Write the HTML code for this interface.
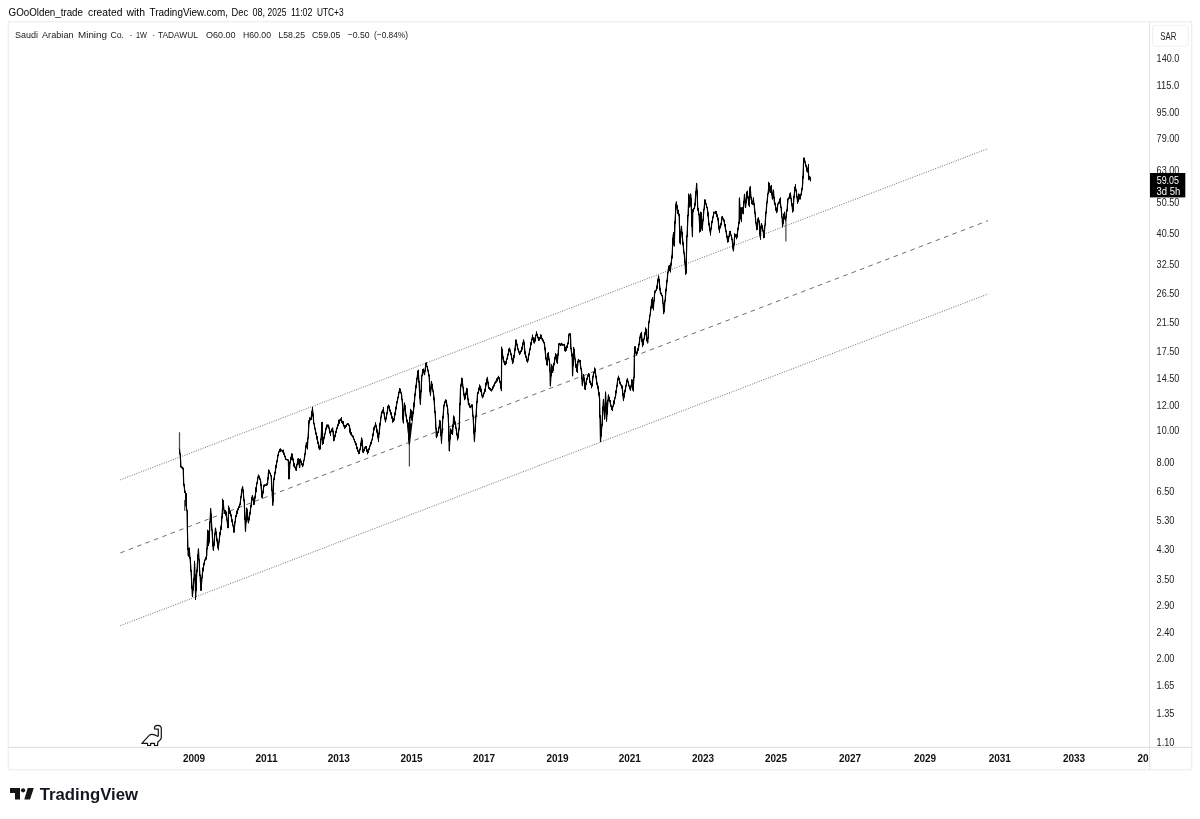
<!DOCTYPE html>
<html lang="en"><head><meta charset="utf-8"><title>Saudi Arabian Mining Co. 1W TADAWUL</title>
<style>
html,body{margin:0;padding:0;background:#fff;}
body{width:1200px;height:819px;overflow:hidden;font-family:"Liberation Sans",sans-serif;}
svg{display:block;}
text{font-family:"Liberation Sans",sans-serif;fill:#131722;}
.hdr{font-size:10.2px;fill:#000;}
.leg{font-size:9.3px;fill:#1a1a1a;}
.pr text{font-size:10.4px;fill:#222;}
.tm text{font-size:10px;font-weight:700;fill:#111;}
.lbl text{font-size:10.3px;fill:#fff;}
</style></head><body>
<svg width="1200" height="819" viewBox="0 0 1200 819">
<rect x="0" y="0" width="1200" height="819" fill="#fff"/>
<text class="hdr" y="15.6"><tspan x="8.6" textLength="74.4" lengthAdjust="spacingAndGlyphs">GOoOlden_trade</tspan> <tspan x="88" textLength="34.4" lengthAdjust="spacingAndGlyphs">created</tspan> <tspan x="126.4" textLength="18.6" lengthAdjust="spacingAndGlyphs">with</tspan> <tspan x="149.6" textLength="78.4" lengthAdjust="spacingAndGlyphs">TradingView.com,</tspan> <tspan x="231.6" textLength="16.4" lengthAdjust="spacingAndGlyphs">Dec</tspan> <tspan x="252.4" textLength="12.6" lengthAdjust="spacingAndGlyphs">08,</tspan> <tspan x="267.6" textLength="18.8" lengthAdjust="spacingAndGlyphs">2025</tspan> <tspan x="291" textLength="21.4" lengthAdjust="spacingAndGlyphs">11:02</tspan> <tspan x="317" textLength="26.6" lengthAdjust="spacingAndGlyphs">UTC+3</tspan></text>
<!-- chart frame -->
<rect x="8.25" y="21.75" width="1183.5" height="748" fill="#fff" stroke="#eeeeee" stroke-width="1.2"/>
<line x1="1149.6" y1="22" x2="1149.6" y2="769.5" stroke="#e4e4e4" stroke-width="1.1"/>
<line x1="8.5" y1="747.4" x2="1191.5" y2="747.4" stroke="#e2e2e2" stroke-width="1.1"/>
<text class="leg" y="37.9"><tspan x="15" textLength="23" lengthAdjust="spacingAndGlyphs">Saudi</tspan> <tspan x="42" textLength="31.6" lengthAdjust="spacingAndGlyphs">Arabian</tspan> <tspan x="78" textLength="29" lengthAdjust="spacingAndGlyphs">Mining</tspan> <tspan x="110.4" textLength="13.6" lengthAdjust="spacingAndGlyphs">Co.</tspan> <tspan x="129.6">·</tspan> <tspan x="136" textLength="11" lengthAdjust="spacingAndGlyphs">1W</tspan> <tspan x="152.2">·</tspan> <tspan x="158" textLength="39.6" lengthAdjust="spacingAndGlyphs">TADAWUL</tspan> <tspan x="206" textLength="29.6" lengthAdjust="spacingAndGlyphs">O60.00</tspan> <tspan x="243" textLength="28" lengthAdjust="spacingAndGlyphs">H60.00</tspan> <tspan x="278.4" textLength="26.6" lengthAdjust="spacingAndGlyphs">L58.25</tspan> <tspan x="312" textLength="28.4" lengthAdjust="spacingAndGlyphs">C59.05</tspan> <tspan x="347.6" textLength="22" lengthAdjust="spacingAndGlyphs">−0.50</tspan> <tspan x="374" textLength="34" lengthAdjust="spacingAndGlyphs">(−0.84%)</tspan></text>
<!-- channel -->
<g fill="none" stroke="#6e6e6e" stroke-width="1">
<line x1="120.3" y1="479.8" x2="988" y2="148.6" stroke-dasharray="1 1.45"/>
<line x1="120.3" y1="625.7" x2="988" y2="294" stroke-dasharray="1 1.45"/>
<line x1="120.3" y1="552.9" x2="988" y2="220.7" stroke-dasharray="4.6 4.4"/>
</g>
<!-- price bars -->
<clipPath id="pane"><rect x="9" y="23" width="1141" height="724"/></clipPath>
<g clip-path="url(#pane)" fill="none" stroke="#000">
<path d="M179.4,448.0 L180.4,458.0 L181.0,466.8 L183.2,469.0 L183.7,483.2 L184.8,491.0 L186.0,494.0 L185.6,503.0 L187.0,510.7 L187.4,530.5 L188.2,556.0 L189.1,548.0 L190.7,565.7 L191.8,583.2 L192.4,596.4 L194.0,578.8 L194.6,562.4 L195.7,597.5 L196.5,578.0 L198.4,549.2 L199.5,568.0 L201.0,589.8 L202.3,574.0 L204.5,561.3 L206.7,555.8 L207.8,530.5 L208.9,543.7 L210.7,508.5 L211.6,524.0 L213.3,550.3 L215.5,528.3 L218.2,549.2 L219.3,539.0 L221.5,523.9 L223.0,500.8 L224.3,512.9 L225.8,511.8 L228.0,527.2 L228.7,507.4 L230.9,515.0 L234.0,530.5 L235.7,517.0 L237.9,509.6 L240.1,504.0 L241.5,493.1 L242.6,486.5 L244.3,503.1 L245.5,531.2 L246.7,508.0 L248.4,522.6 L250.4,510.4 L252.4,495.7 L254.1,504.3 L256.5,486.0 L258.5,475.0 L260.7,481.1 L262.1,498.2 L263.8,486.0 L267.5,484.0 L268.7,470.1 L271.2,476.2 L272.9,505.5 L273.6,481.1 L276.1,466.4 L278.5,453.0 L280.2,449.3 L283.4,451.8 L285.8,459.1 L288.3,460.3 L289.0,478.6 L290.0,462.8 L291.9,454.2 L293.9,464.0 L296.1,470.1 L298.0,459.1 L299.8,467.6 L300.0,459.0 L302.7,466.4 L304.6,457.2 L306.4,442.6 L307.3,448.1 L309.2,420.6 L311.0,418.8 L312.5,408.7 L313.7,422.4 L315.6,431.6 L317.4,439.8 L319.8,449.9 L321.1,438.9 L322.0,422.4 L322.9,442.6 L324.7,435.2 L326.6,426.1 L328.4,425.2 L330.2,433.4 L332.6,427.9 L333.9,440.7 L335.7,432.5 L338.5,423.3 L340.7,418.8 L343.0,423.3 L344.9,427.9 L347.6,423.3 L349.5,426.1 L350.4,433.4 L353.1,437.1 L355.9,444.4 L359.0,453.6 L360.4,448.1 L361.7,438.0 L363.2,452.6 L365.6,446.2 L367.8,452.6 L370.5,444.4 L372.3,438.9 L373.8,429.7 L375.6,424.2 L376.9,429.7 L378.4,439.8 L379.7,427.9 L381.5,413.3 L383.3,409.6 L385.5,421.5 L387.0,413.3 L388.5,405.0 L390.7,413.3 L393.4,421.5 L395.2,413.3 L396.7,404.1 L398.9,393.1 L399.8,388.5 L401.6,394.9 L402.6,405.9 L403.1,422.4 L404.4,403.2 L406.2,416.9 L408.1,426.1 L409.3,444.9 L409.9,418.8 L410.8,409.6 L412.1,420.6 L413.6,409.6 L415.4,391.3 L418.1,370.2 L419.0,382.1 L420.3,404.1 L421.8,376.6 L423.1,369.3 L424.5,374.8 L426.0,362.9 L427.8,369.3 L429.1,376.6 L430.4,394.9 L431.5,382.1 L433.7,394.9 L435.5,418.8 L436.4,437.1 L438.3,431.6 L440.0,421.7 L441.5,441.9 L442.7,419.9 L444.0,405.2 L445.9,399.7 L447.7,408.9 L448.8,427.2 L449.2,451.0 L450.6,429.0 L452.5,434.5 L453.7,416.2 L455.6,425.4 L457.8,439.1 L459.2,427.2 L460.5,388.8 L462.0,378.7 L463.4,390.6 L464.7,399.7 L466.9,388.8 L468.4,403.4 L470.2,407.1 L472.1,405.2 L473.3,419.9 L474.4,441.0 L475.7,419.9 L477.5,394.2 L480.3,386.0 L482.5,397.9 L484.9,390.6 L487.3,377.8 L488.5,386.9 L491.6,390.6 L494.9,383.3 L498.6,376.8 L500.4,383.3 L501.4,390.6 L501.7,347.5 L503.2,359.5 L505.0,364.9 L506.8,359.5 L509.6,348.5 L511.4,355.8 L512.7,363.1 L514.2,355.8 L516.0,340.2 L517.8,348.5 L519.7,354.0 L521.5,350.3 L523.7,340.2 L525.2,354.0 L527.5,362.2 L529.7,350.3 L532.5,336.6 L534.3,343.0 L536.5,332.9 L538.9,340.2 L540.7,336.6 L542.6,339.3 L544.4,343.9 L545.9,357.6 L547.1,364.9 L548.1,353.0 L549.9,364.9 L550.3,386.0 L551.7,364.9 L552.6,372.3 L554.5,361.3 L555.8,354.0 L557.2,363.1 L559.0,343.9 L561.8,344.8 L564.5,344.8 L565.1,351.2 L568.2,343.0 L569.1,333.8 L570.4,333.8 L571.0,348.5 L572.2,357.6 L572.6,375.9 L573.7,347.5 L575.5,363.1 L577.0,371.4 L578.3,359.5 L580.1,361.3 L580.0,362.3 L581.8,373.3 L582.2,385.2 L583.7,375.1 L585.1,389.7 L586.4,380.6 L588.8,373.3 L590.1,382.4 L591.9,386.1 L593.2,375.1 L595.0,369.6 L596.5,380.6 L598.3,389.7 L599.6,398.9 L600.5,441.0 L602.0,424.5 L603.4,399.8 L604.7,419.0 L605.6,392.5 L606.6,420.0 L608.4,395.2 L610.2,402.6 L612.1,409.9 L613.9,402.6 L615.7,395.2 L617.5,381.5 L618.5,376.9 L620.3,384.2 L622.1,386.1 L623.4,399.8 L624.9,391.6 L627.3,378.8 L629.1,386.1 L630.4,389.7 L632.2,380.6 L633.1,389.7 L634.0,376.9 L634.4,354.9 L634.9,346.7 L636.4,354.9 L638.6,347.6 L640.4,334.8 L641.4,333.0 L642.6,345.8 L644.1,338.5 L645.9,329.3 L646.8,340.3 L647.8,343.0 L648.7,323.8 L650.7,310.5 L652.1,298.8 L653.3,308.5 L654.7,292.9 L656.6,289.0 L658.6,276.3 L660.5,292.9 L662.5,296.8 L663.8,313.4 L665.4,296.8 L667.4,277.3 L668.7,266.5 L670.3,271.4 L672.2,253.8 L673.2,234.3 L674.2,246.0 L675.2,218.6 L676.2,202.0 L677.5,210.8 L679.1,214.7 L680.1,244.0 L681.4,226.4 L683.0,244.0 L684.6,257.7 L685.9,274.3 L686.9,238.2 L687.9,218.6 L688.9,194.2 L689.8,206.9 L690.8,194.2 L692.4,236.2 L692.8,210.8 L694.7,206.9 L696.7,183.5 L697.7,206.9 L699.0,214.7 L700.0,231.3 L701.0,212.8 L702.1,230.4 L703.5,214.7 L704.9,200.1 L707.4,208.9 L708.8,222.5 L710.4,233.3 L711.9,222.5 L713.9,212.8 L716.2,211.8 L718.2,220.6 L719.1,230.4 L721.1,224.5 L722.1,216.7 L724.0,220.6 L726.0,231.3 L727.9,242.1 L729.9,231.3 L731.9,238.2 L733.4,250.9 L734.8,234.3 L736.7,238.2 L738.7,224.5 L739.1,222.1 L739.4,197.9 L740.1,210.4 L741.2,220.6 L742.0,207.4 L743.1,213.3 L744.5,194.2 L745.6,207.4 L747.0,192.0 L748.2,198.6 L749.2,206.0 L750.1,186.6 L751.1,198.6 L752.6,204.5 L753.3,198.6 L754.8,210.4 L755.8,222.1 L757.0,229.4 L758.2,217.7 L759.2,222.1 L760.2,237.5 L761.4,223.6 L762.6,228.0 L764.0,236.7 L765.0,225.0 L766.1,211.8 L767.2,200.1 L768.3,191.3 L769.0,183.7 L770.2,192.8 L771.2,186.9 L772.4,198.6 L773.4,189.8 L774.3,201.6 L775.8,207.4 L776.8,212.6 L777.8,204.5 L779.0,203.0 L780.0,199.4 L781.2,208.9 L782.2,219.2 L782.6,226.5 L784.1,213.3 L785.1,219.2 L785.9,220.6 L786.2,213.3 L787.0,210.4 L788.1,198.6 L789.2,197.9 L790.3,192.8 L791.4,201.6 L792.9,211.8 L793.9,198.6 L795.1,186.2 L796.3,191.3 L797.6,202.3 L798.8,194.2 L800.2,197.9 L801.7,191.3 L802.7,184.0 L803.5,163.5 L804.2,158.3 L805.4,163.5 L806.4,167.9 L807.3,172.2 L808.3,166.4 L808.7,179.6 L809.8,176.6 L810.5,180.3" stroke-width="1.2" stroke-linejoin="bevel"/>
<path d="M179.5,447.6V454.1M180.5,453.4V467.3M181.5,466.2V468.0M182.5,466.8V469.2M183.5,467.7V485.7M184.5,484.1V493.1M185.5,491.3V506.1M186.5,493.2V511.1M187.5,510.4V550.0M188.5,548.3V556.8M189.5,547.5V558.7M190.5,557.2V571.5M191.5,570.1V588.8M192.5,586.7V597.1M193.5,578.1V590.6M194.5,560.8V579.6M195.5,574.5V600.0M196.5,569.6V591.1M197.5,554.2V571.9M198.5,548.3V559.9M199.5,559.1V576.1M200.5,574.9V590.7M201.5,577.1V590.9M202.5,567.6V578.1M203.5,563.1V571.3M204.5,559.7V564.7M205.5,557.2V560.6M206.5,548.3V559.7M207.5,529.7V549.1M208.5,530.6V546.0M209.5,521.6V542.4M210.5,508.2V522.4M211.5,513.5V530.4M212.5,529.7V546.6M213.5,543.0V550.8M214.5,533.1V545.7M215.5,527.6V533.6M216.5,531.7V541.2M217.5,538.8V548.0M218.5,541.7V550.4M219.5,532.1V542.3M220.5,526.4V535.1M221.5,515.9V529.8M222.5,498.7V518.4M223.5,500.1V510.2M224.5,509.7V513.8M225.5,510.0V515.6M226.5,511.5V520.5M227.5,519.8V528.1M228.5,505.5V528.2M229.5,507.6V514.0M230.5,511.2V516.3M231.5,514.5V522.1M232.5,519.4V525.8M233.5,525.3V532.7M234.5,521.6V532.6M235.5,515.3V522.6M236.5,510.6V517.0M237.5,508.4V514.1M238.5,506.4V510.1M239.5,503.7V507.8M240.5,496.4V505.2M241.5,489.0V497.6M242.5,486.2V490.9M243.5,489.7V500.8M244.5,499.6V520.0M245.5,518.4V531.9M246.5,507.5V522.6M247.5,509.3V520.5M248.5,518.1V523.5M249.5,512.3V520.3M250.5,504.9V514.4M251.5,497.2V507.2M252.5,495.1V499.4M253.5,498.2V505.1M254.5,496.4V504.6M255.5,487.3V498.3M256.5,482.5V492.1M257.5,477.1V483.6M258.5,474.5V477.8M259.5,476.0V479.7M260.5,478.6V486.2M261.5,484.0V497.2M262.5,491.0V498.5M263.5,484.8V493.4M264.5,484.3V486.7M265.5,484.6V486.0M266.5,483.2V485.8M267.5,477.4V485.3M268.5,469.5V479.4M269.5,470.5V473.6M270.5,472.9V476.2M271.5,475.4V490.9M272.5,490.2V505.7M273.5,478.6V502.0M274.5,472.1V480.0M275.5,465.0V473.7M276.5,460.6V467.8M277.5,454.8V462.0M278.5,451.4V456.0M279.5,448.9V452.2M280.5,448.3V452.1M281.5,449.6V451.3M282.5,450.1V452.6M283.5,449.5V454.8M284.5,453.2V457.1M285.5,455.9V459.9M286.5,458.8V460.2M287.5,459.5V460.6M288.5,459.5V479.3M289.5,461.7V479.2M290.5,456.9V463.4M291.5,453.2V460.2M292.5,453.7V460.2M293.5,458.6V466.6M294.5,463.3V467.9M295.5,466.9V470.3M296.5,464.1V470.9M297.5,458.6V465.1M298.5,458.1V464.5M299.5,459.0V468.1M300.5,458.6V462.1M301.5,460.7V464.9M302.5,463.6V467.2M303.5,460.0V465.5M304.5,453.5V460.3M305.5,445.5V454.7M306.5,442.1V446.7M307.5,437.8V449.5M308.5,420.5V438.6M309.5,417.2V423.3M310.5,417.6V420.5M311.5,411.1V420.0M312.5,406.8V416.5M313.5,413.4V423.8M314.5,423.1V429.2M315.5,428.3V434.4M316.5,432.6V439.4M317.5,436.0V443.9M318.5,441.8V448.5M319.5,446.0V450.1M320.5,438.4V449.0M321.5,422.0V439.7M322.5,421.8V444.9M323.5,437.1V444.0M324.5,433.6V438.7M325.5,428.1V434.0M326.5,424.5V429.3M327.5,424.4V427.4M328.5,424.7V428.4M329.5,427.6V433.4M330.5,431.3V436.0M331.5,429.0V431.9M332.5,427.6V432.2M333.5,430.9V441.3M334.5,435.1V440.6M335.5,431.1V437.0M336.5,427.5V432.9M337.5,424.4V428.8M338.5,419.8V426.0M339.5,419.2V423.9M340.5,418.6V421.1M341.5,417.0V422.9M342.5,421.1V424.1M343.5,421.1V426.6M344.5,425.0V428.9M345.5,425.0V428.2M346.5,424.0V426.9M347.5,423.1V425.1M348.5,423.5V425.5M349.5,424.8V432.5M350.5,428.7V434.7M351.5,432.1V435.8M352.5,434.8V437.3M353.5,435.8V439.6M354.5,438.9V442.4M355.5,441.3V445.1M356.5,443.2V449.2M357.5,446.9V451.7M358.5,450.3V454.2M359.5,448.7V454.0M360.5,442.6V449.9M361.5,437.4V446.0M362.5,439.7V452.3M363.5,449.4V452.9M364.5,447.3V450.9M365.5,446.0V448.3M366.5,446.2V451.9M367.5,449.5V454.4M368.5,448.3V453.0M369.5,445.5V450.1M370.5,442.0V446.2M371.5,439.7V444.4M372.5,433.8V440.3M373.5,427.2V435.7M374.5,425.8V430.1M375.5,422.2V427.3M376.5,425.2V432.6M377.5,429.8V437.7M378.5,432.7V442.1M379.5,423.1V434.5M380.5,416.8V425.5M381.5,411.4V417.5M382.5,409.5V413.4M383.5,407.0V413.5M384.5,412.6V419.3M385.5,418.2V422.4M386.5,412.2V419.1M387.5,406.2V413.7M388.5,404.6V408.0M389.5,406.0V411.3M390.5,409.7V414.6M391.5,412.2V418.6M392.5,416.4V422.8M393.5,418.4V421.9M394.5,412.4V420.4M395.5,406.8V415.2M396.5,401.4V409.2M397.5,397.1V403.0M398.5,392.0V397.9M399.5,388.0V393.0M400.5,388.9V393.3M401.5,392.5V399.8M402.5,398.9V419.8M403.5,408.7V423.6M404.5,402.4V409.6M405.5,405.2V415.5M406.5,414.9V421.8M407.5,419.8V426.8M408.5,425.5V440.6M409.5,416.7V445.8M410.5,408.9V418.1M411.5,410.3V420.4M412.5,411.3V420.9M413.5,402.6V413.9M414.5,393.6V407.1M415.5,385.3V395.6M416.5,378.0V388.0M417.5,370.7V379.5M418.5,369.8V382.5M419.5,380.8V398.7M420.5,390.3V404.9M421.5,375.1V392.3M422.5,369.0V376.1M423.5,368.5V373.1M424.5,370.2V375.2M425.5,362.8V371.6M426.5,362.3V366.6M427.5,366.2V371.1M428.5,370.1V376.4M429.5,374.6V391.7M430.5,387.1V396.1M431.5,381.0V389.3M432.5,383.9V391.4M433.5,390.7V400.3M434.5,397.5V412.8M435.5,411.4V428.6M436.5,427.9V438.2M437.5,431.4V436.4M438.5,426.9V432.9M439.5,419.9V428.5M440.5,420.5V435.9M441.5,432.3V443.9M442.5,416.1V433.0M443.5,405.4V418.5M444.5,401.2V406.3M445.5,399.5V402.5M446.5,400.0V406.4M447.5,405.1V414.2M448.5,413.6V441.3M449.5,437.7V451.4M450.5,428.4V439.4M451.5,429.9V434.0M452.5,424.5V435.0M453.5,415.4V427.2M454.5,416.9V424.7M455.5,421.6V428.7M456.5,427.7V435.2M457.5,433.7V440.5M458.5,428.4V438.0M459.5,402.9V429.5M460.5,384.5V405.0M461.5,377.6V386.1M462.5,378.2V387.3M463.5,386.9V395.4M464.5,393.6V400.2M465.5,392.9V398.9M466.5,387.9V394.8M467.5,388.4V399.8M468.5,398.4V405.2M469.5,403.1V407.6M470.5,405.5V408.2M471.5,404.3V407.3M472.5,404.3V416.5M473.5,415.4V433.6M474.5,431.4V442.1M475.5,415.6V431.7M476.5,401.1V416.7M477.5,392.2V402.8M478.5,387.5V393.9M479.5,384.4V390.2M480.5,385.8V392.1M481.5,388.9V395.7M482.5,395.1V398.3M483.5,392.7V396.7M484.5,389.0V393.7M485.5,382.6V391.8M486.5,378.7V385.3M487.5,376.9V383.5M488.5,381.9V388.8M489.5,387.1V389.8M490.5,388.0V390.8M491.5,389.2V391.6M492.5,386.5V390.2M493.5,384.8V388.4M494.5,382.3V386.3M495.5,380.9V383.7M496.5,378.3V382.6M497.5,377.5V381.4M498.5,375.8V378.8M499.5,377.3V382.5M500.5,381.3V388.8M501.5,346.6V391.2M502.5,349.1V358.5M503.5,356.5V362.2M504.5,360.8V365.1M505.5,361.5V365.3M506.5,358.6V364.1M507.5,353.8V359.4M508.5,348.6V355.4M509.5,347.6V351.1M510.5,349.9V355.0M511.5,353.5V359.7M512.5,358.4V364.1M513.5,355.0V362.5M514.5,348.5V357.7M515.5,339.5V350.9M516.5,339.6V345.5M517.5,344.2V349.8M518.5,348.6V352.5M519.5,351.4V355.1M520.5,350.5V353.9M521.5,347.0V352.0M522.5,342.5V349.9M523.5,339.4V344.3M524.5,342.3V354.3M525.5,351.4V357.6M526.5,355.9V361.4M527.5,359.6V362.8M528.5,353.8V360.5M529.5,348.7V355.1M530.5,342.2V350.0M531.5,338.7V344.9M532.5,334.5V339.7M533.5,337.3V342.6M534.5,337.7V343.5M535.5,335.0V341.5M536.5,331.3V335.7M537.5,334.0V338.2M538.5,337.0V340.9M539.5,337.2V340.5M540.5,334.2V338.9M541.5,334.8V339.5M542.5,338.3V341.5M543.5,340.0V343.2M544.5,342.0V349.8M545.5,347.4V359.4M546.5,357.5V365.2M547.5,352.9V365.8M548.5,352.1V360.1M549.5,358.7V371.6M550.5,371.2V386.4M551.5,364.2V376.4M552.5,366.2V373.0M553.5,363.2V370.7M554.5,357.1V364.9M555.5,353.1V359.3M556.5,354.5V362.4M557.5,353.8V363.9M558.5,343.4V355.5M559.5,342.9V344.9M560.5,343.5V346.1M561.5,342.8V345.3M562.5,343.6V345.8M563.5,344.3V345.6M564.5,343.8V351.0M565.5,346.9V351.7M566.5,345.8V350.8M567.5,342.6V348.1M568.5,334.3V344.2M569.5,333.4V335.6M570.5,333.5V348.9M571.5,347.7V356.4M572.5,353.7V376.4M573.5,346.9V366.1M574.5,349.1V359.4M575.5,358.5V367.7M576.5,364.0V371.9M577.5,361.1V373.0M578.5,359.1V362.4M579.5,360.0V362.0M580.5,360.0V369.2M581.5,368.1V379.2M582.5,378.5V386.1M583.5,374.0V379.8M584.5,377.7V389.4M585.5,382.4V390.0M586.5,378.1V384.7M587.5,374.8V379.8M588.5,373.0V376.3M589.5,374.0V382.9M590.5,381.2V384.8M591.5,383.3V388.4M592.5,376.2V386.4M593.5,371.8V377.3M594.5,367.4V373.2M595.5,368.5V377.7M596.5,375.9V384.7M597.5,382.8V388.8M598.5,385.8V395.5M599.5,392.3V417.8M600.5,415.2V442.1M601.5,424.1V436.5M602.5,406.5V425.7M603.5,398.9V408.5M604.5,407.3V419.7M605.5,391.5V411.3M606.5,402.3V421.9M607.5,399.7V414.4M608.5,394.3V401.1M609.5,397.1V401.8M610.5,400.0V406.5M611.5,405.5V410.1M612.5,405.9V411.1M613.5,400.4V406.4M614.5,397.5V404.3M615.5,390.5V398.2M616.5,385.2V393.2M617.5,378.2V386.6M618.5,375.6V379.7M619.5,378.0V383.7M620.5,382.0V385.5M621.5,384.6V388.5M622.5,385.7V396.0M623.5,393.1V401.1M624.5,390.0V397.6M625.5,385.2V391.9M626.5,379.8V386.3M627.5,378.2V382.0M628.5,381.5V385.9M629.5,385.5V389.1M630.5,385.6V390.9M631.5,379.2V387.2M632.5,379.5V390.5M633.5,376.9V391.6M634.5,346.4V377.6M635.5,346.3V353.6M636.5,352.1V355.4M637.5,348.1V353.6M638.5,343.9V350.8M639.5,336.9V345.2M640.5,333.3V338.2M641.5,331.8V341.9M642.5,339.1V347.1M643.5,338.6V345.1M644.5,332.4V339.2M645.5,327.4V334.5M646.5,328.7V340.9M647.5,337.3V343.4M648.5,321.6V338.7M649.5,315.0V322.6M650.5,306.5V315.5M651.5,299.2V308.6M652.5,297.1V308.4M653.5,300.2V310.4M654.5,290.6V301.3M655.5,290.0V292.9M656.5,285.8V290.9M657.5,279.2V288.8M658.5,275.4V280.9M659.5,279.0V290.3M660.5,287.8V294.1M661.5,292.5V296.0M662.5,294.8V303.4M663.5,302.9V314.2M664.5,300.5V311.9M665.5,288.8V301.4M666.5,280.2V291.1M667.5,271.9V281.8M668.5,265.7V272.4M669.5,264.9V271.1M670.5,263.1V272.5M671.5,255.6V265.4M672.5,237.7V258.5M673.5,231.9V244.3M674.5,221.2V246.6M675.5,204.1V223.7M676.5,201.3V207.6M677.5,205.2V214.1M678.5,209.7V215.7M679.5,214.1V242.6M680.5,230.9V244.5M681.5,225.8V234.3M682.5,232.1V244.8M683.5,242.3V253.3M684.5,252.5V263.3M685.5,262.5V274.8M686.5,235.5V273.4M687.5,214.9V237.0M688.5,193.5V216.2M689.5,195.6V207.6M690.5,193.4V205.2M691.5,197.9V226.8M692.5,209.2V237.2M693.5,208.1V212.1M694.5,203.0V209.2M695.5,191.2V205.6M696.5,182.9V192.3M697.5,190.3V210.7M698.5,208.0V215.2M699.5,213.8V232.7M700.5,211.6V231.9M701.5,212.2V228.7M702.5,219.5V230.9M703.5,208.9V220.9M704.5,199.3V209.9M705.5,199.5V204.5M706.5,203.5V208.1M707.5,207.2V216.2M708.5,212.3V225.4M709.5,223.0V231.1M710.5,228.2V235.6M711.5,221.0V229.4M712.5,216.6V222.8M713.5,211.6V217.7M714.5,211.8V213.5M715.5,210.8V214.2M716.5,211.0V217.0M717.5,214.4V220.3M718.5,217.6V229.0M719.5,225.6V232.9M720.5,223.2V228.1M721.5,216.7V225.2M722.5,215.9V219.6M723.5,218.3V221.4M724.5,219.7V226.4M725.5,224.0V231.7M726.5,230.7V237.6M727.5,235.8V242.7M728.5,235.9V242.0M729.5,231.0V237.1M730.5,230.8V235.4M731.5,234.8V239.8M732.5,239.0V248.6M733.5,243.2V251.5M734.5,233.2V244.8M735.5,234.0V236.9M736.5,234.0V239.3M737.5,227.8V237.4M738.5,221.6V229.8M739.5,197.5V223.7M740.5,207.3V219.3M741.5,207.6V222.2M742.5,207.1V213.4M743.5,200.9V214.3M744.5,193.8V201.4M745.5,200.1V208.0M746.5,191.5V203.1M747.5,190.7V198.5M748.5,196.2V205.3M749.5,187.8V207.1M750.5,186.2V197.5M751.5,196.9V204.1M752.5,200.9V204.9M753.5,197.3V204.8M754.5,203.3V213.5M755.5,212.3V223.4M756.5,222.3V230.3M757.5,218.6V229.9M758.5,217.4V221.7M759.5,220.5V234.9M760.5,225.9V239.9M761.5,223.1V228.9M762.5,225.4V231.4M763.5,230.3V238.3M764.5,225.4V237.9M765.5,212.0V225.8M766.5,202.3V213.3M767.5,193.3V202.9M768.5,181.9V194.1M769.5,182.8V191.5M770.5,185.8V193.0M771.5,184.9V195.2M772.5,192.4V199.7M773.5,189.6V198.3M774.5,196.8V204.6M775.5,202.7V210.8M776.5,207.8V213.2M777.5,203.4V211.5M778.5,201.7V204.4M779.5,198.5V203.6M780.5,197.3V207.9M781.5,207.1V217.5M782.5,217.0V227.4M783.5,213.9V223.9M784.5,211.6V219.4M785.5,216.6V221.6M786.5,209.6V218.0M787.5,198.7V211.4M788.5,197.6V199.6M789.5,193.7V198.9M790.5,192.5V198.8M791.5,198.0V205.7M792.5,203.4V212.7M793.5,195.9V211.2M794.5,186.9V197.9M795.5,184.1V191.1M796.5,189.7V197.6M797.5,196.5V203.9M798.5,193.4V201.8M799.5,194.0V199.6M800.5,194.1V199.5M801.5,188.4V195.3M802.5,176.0V189.8M803.5,157.6V178.6M804.5,157.6V162.3M805.5,161.7V166.4M806.5,165.1V171.1M807.5,167.7V172.5M808.5,164.0V180.2M809.5,175.8V179.4M810.5,177.2V181.3" stroke-width="1"/>
<path d="M179.5,432.2V449M184.7,500V510.7M409.4,444V466.4M785.9,220V241.6" stroke="#4c4c4c" stroke-width="1.25"/>
<path d="M406.4,418.5 L409,444.4 L409.9,444.4 L412.9,419.5 L411,424 L409.4,421.5 L407.8,423 Z" fill="#000" stroke="none"/>
</g>
<!-- dino -->
<path d="M141.8,743.3 L149.2,735.4 C150.6,734.2 153.4,733.8 157.6,736.3 L158.3,736.1 L158.3,729.1 L154.5,729 L154.5,727.4 C154.7,725.6 156.2,725.3 157.6,725.3 C159.8,725.3 161.3,726.6 161.3,728.6 L161.3,737.6 C161.2,739.6 159.6,740.8 157.8,741.9 L157.6,745.5 L154.5,745.5 L154.5,743.3 L150.6,743.3 L150.6,745.5 L147.6,745.5 L147.6,743.3 Z" fill="none" stroke="#111" stroke-width="1.2" stroke-linejoin="round"/>
<!-- price axis -->
<rect x="1152.5" y="25.3" width="35.8" height="20.9" rx="3.5" fill="#fff" stroke="#f0f0f0" stroke-width="1.1"/>
<g class="pr">
<text x="1160.3" y="39.8" textLength="16" lengthAdjust="spacingAndGlyphs">SAR</text>
<text x="1156.6" y="61.6" textLength="22.7" lengthAdjust="spacingAndGlyphs">140.0</text>
<text x="1156.6" y="89.4" textLength="22.7" lengthAdjust="spacingAndGlyphs">115.0</text>
<text x="1156.6" y="116.4" textLength="22.7" lengthAdjust="spacingAndGlyphs">95.00</text>
<text x="1156.6" y="142.4" textLength="22.7" lengthAdjust="spacingAndGlyphs">79.00</text>
<text x="1156.6" y="174.3" textLength="22.7" lengthAdjust="spacingAndGlyphs">63.00</text>
<text x="1156.6" y="205.6" textLength="22.7" lengthAdjust="spacingAndGlyphs">50.50</text>
<text x="1156.6" y="236.7" textLength="22.7" lengthAdjust="spacingAndGlyphs">40.50</text>
<text x="1156.6" y="267.8" textLength="22.7" lengthAdjust="spacingAndGlyphs">32.50</text>
<text x="1156.6" y="296.6" textLength="22.7" lengthAdjust="spacingAndGlyphs">26.50</text>
<text x="1156.6" y="326.2" textLength="22.7" lengthAdjust="spacingAndGlyphs">21.50</text>
<text x="1156.6" y="355.2" textLength="22.7" lengthAdjust="spacingAndGlyphs">17.50</text>
<text x="1156.6" y="381.8" textLength="22.7" lengthAdjust="spacingAndGlyphs">14.50</text>
<text x="1156.6" y="408.5" textLength="22.7" lengthAdjust="spacingAndGlyphs">12.00</text>
<text x="1156.6" y="434.2" textLength="22.7" lengthAdjust="spacingAndGlyphs">10.00</text>
<text x="1156.6" y="465.7" textLength="17.8" lengthAdjust="spacingAndGlyphs">8.00</text>
<text x="1156.6" y="495.1" textLength="17.8" lengthAdjust="spacingAndGlyphs">6.50</text>
<text x="1156.6" y="523.9" textLength="17.8" lengthAdjust="spacingAndGlyphs">5.30</text>
<text x="1156.6" y="553.4" textLength="17.8" lengthAdjust="spacingAndGlyphs">4.30</text>
<text x="1156.6" y="582.5" textLength="17.8" lengthAdjust="spacingAndGlyphs">3.50</text>
<text x="1156.6" y="609.0" textLength="17.8" lengthAdjust="spacingAndGlyphs">2.90</text>
<text x="1156.6" y="635.7" textLength="17.8" lengthAdjust="spacingAndGlyphs">2.40</text>
<text x="1156.6" y="661.5" textLength="17.8" lengthAdjust="spacingAndGlyphs">2.00</text>
<text x="1156.6" y="688.7" textLength="17.8" lengthAdjust="spacingAndGlyphs">1.65</text>
<text x="1156.6" y="717.0" textLength="17.8" lengthAdjust="spacingAndGlyphs">1.35</text>
<text x="1156.6" y="745.9" textLength="17.8" lengthAdjust="spacingAndGlyphs">1.10</text>
</g>
<rect x="1150" y="173" width="35.3" height="24.4" fill="#000"/>
<g class="lbl">
<text x="1156.7" y="183.6" textLength="22.3" lengthAdjust="spacingAndGlyphs">59.05</text>
<text x="1156.5" y="194.7" textLength="23.8" lengthAdjust="spacingAndGlyphs">3d 5h</text>
</g>
<!-- time axis -->
<clipPath id="tax"><rect x="9" y="748" width="1139.9" height="21"/></clipPath>
<g class="tm" clip-path="url(#tax)">
<text x="182.9" y="761.8" textLength="22.2" lengthAdjust="spacingAndGlyphs">2009</text>
<text x="255.4" y="761.8" textLength="22.2" lengthAdjust="spacingAndGlyphs">2011</text>
<text x="327.7" y="761.8" textLength="22.2" lengthAdjust="spacingAndGlyphs">2013</text>
<text x="400.4" y="761.8" textLength="22.2" lengthAdjust="spacingAndGlyphs">2015</text>
<text x="472.9" y="761.8" textLength="22.2" lengthAdjust="spacingAndGlyphs">2017</text>
<text x="546.4" y="761.8" textLength="22.2" lengthAdjust="spacingAndGlyphs">2019</text>
<text x="618.7" y="761.8" textLength="22.2" lengthAdjust="spacingAndGlyphs">2021</text>
<text x="691.9" y="761.8" textLength="22.2" lengthAdjust="spacingAndGlyphs">2023</text>
<text x="764.9" y="761.8" textLength="22.2" lengthAdjust="spacingAndGlyphs">2025</text>
<text x="838.9" y="761.8" textLength="22.2" lengthAdjust="spacingAndGlyphs">2027</text>
<text x="913.9" y="761.8" textLength="22.2" lengthAdjust="spacingAndGlyphs">2029</text>
<text x="988.7" y="761.8" textLength="22.2" lengthAdjust="spacingAndGlyphs">2031</text>
<text x="1062.9" y="761.8" textLength="22.2" lengthAdjust="spacingAndGlyphs">2033</text>
<text x="1137.5" y="761.8" textLength="22.2" lengthAdjust="spacingAndGlyphs">2035</text>
</g>
<!-- TradingView logo -->
<g fill="#151515">
<path d="M10,788.1 H20 V799.4 H15 V793.1 H10 Z"/>
<circle cx="23.1" cy="790.3" r="2.15"/>
<path d="M27.7,788.1 H33.8 L30,799.4 H24.3 Z"/>
<text transform="translate(39.7,799.5) scale(1,0.966)" x="0" y="0" font-size="17" font-weight="700" textLength="98.4" lengthAdjust="spacingAndGlyphs">TradingView</text>
</g>
</svg>
</body></html>
